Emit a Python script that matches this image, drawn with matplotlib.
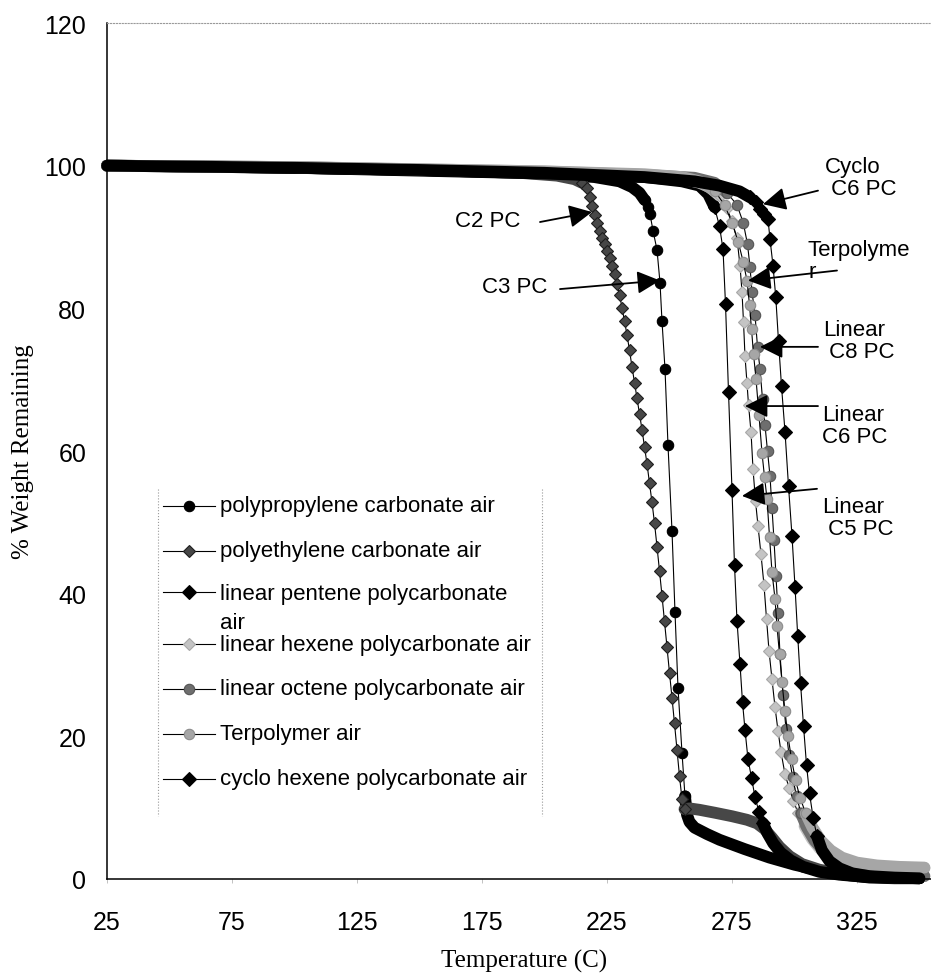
import matplotlib.pyplot as plt
from matplotlib.lines import Line2D

# TGA curves, % weight remaining vs temperature (C), read point by point
pc3_T = [25, 60, 100, 150, 200, 220, 230, 235, 238, 240, 241.4, 242.2, 243.4, 245.0, 246.2, 247.0,
         248.2, 249.4, 251.0, 252.2, 253.4, 255.0, 256.2, 257.0, 258.0, 260, 265, 270, 280, 290,
         300, 310, 320, 330, 340, 350]
pc3_W = [100, 99.9, 99.7, 99.4, 98.9, 98.4, 97.8, 97.0, 96.2, 95.2, 94.2, 93.2, 90.9, 88.2, 83.6, 78.2,
         71.5, 60.8, 48.8, 37.4, 26.8, 17.7, 11.6, 9.0, 8.0, 7.2, 6.3, 5.5, 4.2, 3.0,
         2.0, 1.2, 0.6, 0.2, 0.1, 0.1]

pc2_T = [25, 60, 100, 150, 190, 205, 212, 215, 217, 218, 219, 220, 221, 222, 223, 224, 225, 226,
         227, 228, 229, 230, 231, 232, 233, 234, 235, 236, 237, 238, 239, 240, 241, 242, 243, 244,
         245, 246, 247, 248, 249, 250, 251, 252, 253, 254, 255, 256, 258, 262, 268, 275, 281, 285,
         288, 291, 294, 298, 303, 310, 318, 328, 340, 350]
pc2_W = [100, 99.9, 99.7, 99.4, 99.0, 98.6, 98.1, 97.6, 96.8, 95.6, 94.3, 93.1, 92.0, 90.9, 89.9,
         89.0, 88.0, 87.0, 86.0, 84.8, 83.4, 81.9, 80.1, 78.2, 76.3, 74.1, 71.8, 69.6, 67.4, 65.2,
         63.0, 60.6, 58.2, 55.5, 52.8, 49.9, 46.6, 43.2, 39.7, 36.1, 32.5, 28.9, 25.4, 21.8, 18.1,
         14.4, 11.2, 9.8, 9.9, 9.7, 9.3, 8.8, 8.3, 7.8, 7.0, 5.8, 4.5, 3.2, 2.1, 1.3, 0.8, 0.4,
         0.2, 0.2]

c5_T = [25, 100, 200, 240, 255, 262, 265.5, 268, 270, 271.4, 272.4, 273.6, 275.0, 276.0, 277.0,
        278.2, 279.2, 280.2, 281.4, 282.8, 284.2, 285.8, 287.4, 289.2, 291.5, 294.5, 298.5, 303.5,
        310, 318, 328, 340, 350]
c5_W = [100, 99.7, 98.9, 98.4, 97.8, 97.2, 96.0, 94.2, 91.5, 88.3, 80.6, 68.3, 54.5, 44.0, 36.2,
        30.1, 24.8, 20.9, 16.8, 14.2, 11.5, 9.4, 7.8, 6.4, 5.0, 3.7, 2.6, 1.7,
        1.0, 0.6, 0.3, 0.2, 0.1]

c6_T = [25, 100, 200, 240, 255, 262, 266, 270, 273, 275, 277, 278.2, 279.0, 279.6, 280.2, 281.0,
        281.6, 282.6, 283.4, 284.4, 285.4, 286.6, 287.8, 288.8, 289.8, 291.0, 292.2, 293.4, 294.6,
        296.2, 297.8, 299.5, 301.5, 304, 307, 310, 314, 318, 324, 332, 342, 352]
c6_W = [100, 99.8, 99.2, 98.7, 98.2, 97.6, 97.0, 95.8, 94.0, 92.2, 89.8, 86.0, 82.3, 78.1, 73.3,
        69.5, 66.5, 62.7, 57.5, 53.0, 49.5, 45.5, 41.2, 36.5, 32.0, 28.0, 24.1, 20.8, 17.8,
        14.7, 12.8, 11.0, 9.2, 7.4, 5.6, 4.3, 3.2, 2.5, 2.0, 1.7, 1.6, 1.5]

c8_T = [25, 100, 200, 240, 260, 268, 273, 277, 279.5, 281.2, 282.2, 283.0, 284.2, 285.2, 286.2,
        287.2, 288.2, 289.2, 290.2, 291.0, 291.8, 292.6, 293.4, 294.2, 295.4, 296.6, 297.8, 299.2,
        300.8, 302.6, 305, 308, 312, 317, 323, 331, 341, 352]
c8_W = [100, 99.8, 99.1, 98.7, 98.3, 97.6, 96.2, 94.5, 92.0, 89.0, 85.8, 82.3, 79.1, 74.6, 71.5,
        67.3, 63.6, 60.0, 56.5, 52.0, 47.5, 42.5, 37.3, 31.5, 25.8, 21.0, 17.4, 14.3,
        11.6, 9.2, 7.2, 5.4, 3.8, 2.6, 1.7, 1.0, 0.6, 0.4]

ter_T = [25, 100, 200, 240, 255, 262, 268, 272, 275, 277.5, 279.5, 281.0, 282.0, 282.8, 283.6,
         284.6, 285.8, 287.0, 288.0, 289.0, 290.0, 291.0, 292.2, 293.0, 294.0, 295.0, 296.2, 297.4,
         298.8, 300.4, 302.2, 304.5, 307.2, 310.5, 314.5, 319, 325, 333, 342, 352]
ter_W = [100, 99.8, 99.2, 98.8, 98.4, 97.8, 96.5, 94.5, 92.0, 89.3, 86.5, 83.9, 80.5, 77.1, 73.6,
         70.1, 65.0, 59.7, 56.4, 53.3, 48.0, 43.0, 39.3, 35.4, 31.5, 27.6, 23.5, 20.0,
         16.8, 13.9, 11.4, 9.2, 7.2, 5.4, 4.0, 3.0, 2.3, 1.9, 1.7, 1.6]

cy_T = [25, 100, 150, 200, 240, 260, 270, 278, 282, 284.6, 286.2, 287.6, 289.4, 290.2, 291.4,
        292.5, 293.6, 294.8, 296.2, 297.6, 299.0, 300.2, 301.3, 302.4, 303.6, 304.8, 306.0, 307.5,
        309.0, 311, 314, 318, 323, 330, 340, 350]
cy_W = [100, 99.7, 99.4, 99.0, 98.4, 97.8, 97.2, 96.4, 95.6, 94.9, 93.9, 93.2, 92.5, 89.7, 86.0,
        81.6, 75.4, 69.1, 62.7, 55.1, 48.1, 41.0, 34.0, 27.5, 21.5, 16.0, 12.0, 8.5,
        6.0, 4.0, 2.5, 1.5, 0.8, 0.4, 0.2, 0.1]

labels = ['polypropylene carbonate air', 'polyethylene carbonate air',
          'linear pentene polycarbonate\nair', 'linear hexene polycarbonate air',
          'linear octene polycarbonate air', 'Terpolymer air', 'cyclo hexene polycarbonate air']
x_ticks = [25, 75, 125, 175, 225, 275, 325]
y_ticks = [0, 20, 40, 60, 80, 100, 120]

# marker, face, edge, size, (first, last) index of the steep part drawn with separate markers
styles = [
    ('o', '#000000', '#000000', 7.5, (9, 22)),
    ('D', '#474747', '#1e1e1e', 6.0, (7, 47)),
    ('D', '#000000', '#000000', 7.0, (7, 22)),
    ('D', '#c4c4c4', '#a8a8a8', 6.0, (7, 33)),
    ('o', '#6e6e6e', '#555555', 7.5, (6, 29)),
    ('o', '#a6a6a6', '#8c8c8c', 7.5, (6, 31)),
    ('D', '#000000', '#000000', 7.0, (8, 28)),
]
curves = [(pc3_T, pc3_W), (pc2_T, pc2_W), (c5_T, c5_W), (c6_T, c6_W),
          (c8_T, c8_W), (ter_T, ter_W), (cy_T, cy_W)]

plt.rcParams['font.family'] = ['Liberation Sans', 'DejaVu Sans']

W_PX, H_PX = 931, 979
fig = plt.figure(figsize=(W_PX / 100, H_PX / 100), dpi=100)
ax = fig.add_axes([107 / W_PX, 99 / H_PX, 834 / W_PX, 856 / H_PX])
ax.set_xlim(25, 358.6)
ax.set_ylim(0, 120)

for (T, W), (mk, fc, ec, ms, (i0, i1)) in zip(curves, styles):
    # flat parts: markers so close they merge into a solid band
    band = dict(color=fc, lw=8.5, solid_capstyle='round', solid_joinstyle='round', clip_on=False)
    ax.plot(T[:i0 + 1], W[:i0 + 1], **band)
    ax.plot(T[i1:], W[i1:], **band)
    ax.plot(T[i0:i1 + 1], W[i0:i1 + 1], color='black', lw=0.8, marker=mk, ms=ms,
            mfc=fc, mec=ec, mew=0.8, clip_on=False)

# axes frame
ax.spines['right'].set_visible(False)
ax.spines['top'].set_color('#9a9a9a')
ax.spines['top'].set_linestyle(':')
ax.spines['top'].set_linewidth(0.8)
for s in ('left', 'bottom'):
    ax.spines[s].set_linewidth(1.1)
ax.set_xticks(x_ticks)
ax.set_yticks(y_ticks)
ax.tick_params(axis='x', length=3, width=0.5, color='#aaaaaa', pad=19, labelsize=18)
ax.tick_params(axis='y', length=0, pad=15, labelsize=18)

ax.set_xlabel('Temperature (C)', family=['Liberation Serif'], fontsize=18)
ax.set_ylabel('% Weight Remaining', family=['Liberation Serif'], fontsize=18)
ax.xaxis.set_label_coords(0.5, -0.082)
ax.yaxis.set_label_coords(-0.087, 0.5)

# callouts
arrow = dict(arrowstyle='-|>,head_length=0.7,head_width=0.35', color='black', lw=1.3,
             mutation_scale=20, shrinkA=0, shrinkB=0)
callouts = [
    ('C2 PC', (190.2, 92.3), 'right', (198.2, 92.1), (219.0, 93.5)),
    ('C3 PC', (201.0, 83.1), 'right', (206.2, 82.7), (246.2, 83.9)),
    ('Cyclo\n C6 PC', (312.2, 98.3), 'left', (309.4, 96.5), (287.4, 94.6)),
    ('Terpolyme\nr', (305.4, 86.7), 'left', (317.0, 85.3), (281.4, 83.9)),
    ('Linear\n C8 PC', (311.4, 75.5), 'left', (309.4, 74.6), (286.2, 74.6)),
    ('Linear\nC6 PC', (311.0, 63.6), 'left', (309.4, 66.3), (280.2, 66.3)),
    ('Linear\n C5 PC', (311.0, 50.7), 'left', (309.0, 54.7), (279.0, 53.7)),
]
for txt, pos, ha, tail, head in callouts:
    ax.text(pos[0], pos[1], txt, ha=ha, va='center', fontsize=16, linespacing=1.05)
    ax.annotate('', xy=head, xytext=tail, arrowprops=arrow)


# legend box, laid out in pixel units of the figure
def fxy(px, py):
    return px / W_PX, 1 - py / H_PX


row_y = [507, 552, 593, 645, 690, 735, 780]
for x_edge in (158, 542):
    fig.add_artist(Line2D(*zip(fxy(x_edge, 490), fxy(x_edge, 817)), color='#9a9a9a',
                          lw=0.8, ls=':'))
for lab, y, (mk, fc, ec, ms, _) in zip(labels, row_y, styles):
    fig.add_artist(Line2D(*zip(fxy(163, y), fxy(215, y)), color='black', lw=0.8))
    fig.add_artist(Line2D(*zip(fxy(189, y)), marker=mk, ms=ms, mfc=fc, mec=ec, mew=0.8))
    if '\n' in lab:
        fig.text(*fxy(220, y + 16), lab, va='center', fontsize=16, linespacing=1.45)
    else:
        fig.text(*fxy(220, y), lab, va='center', fontsize=16)

fig.savefig('out.png', dpi=100)
